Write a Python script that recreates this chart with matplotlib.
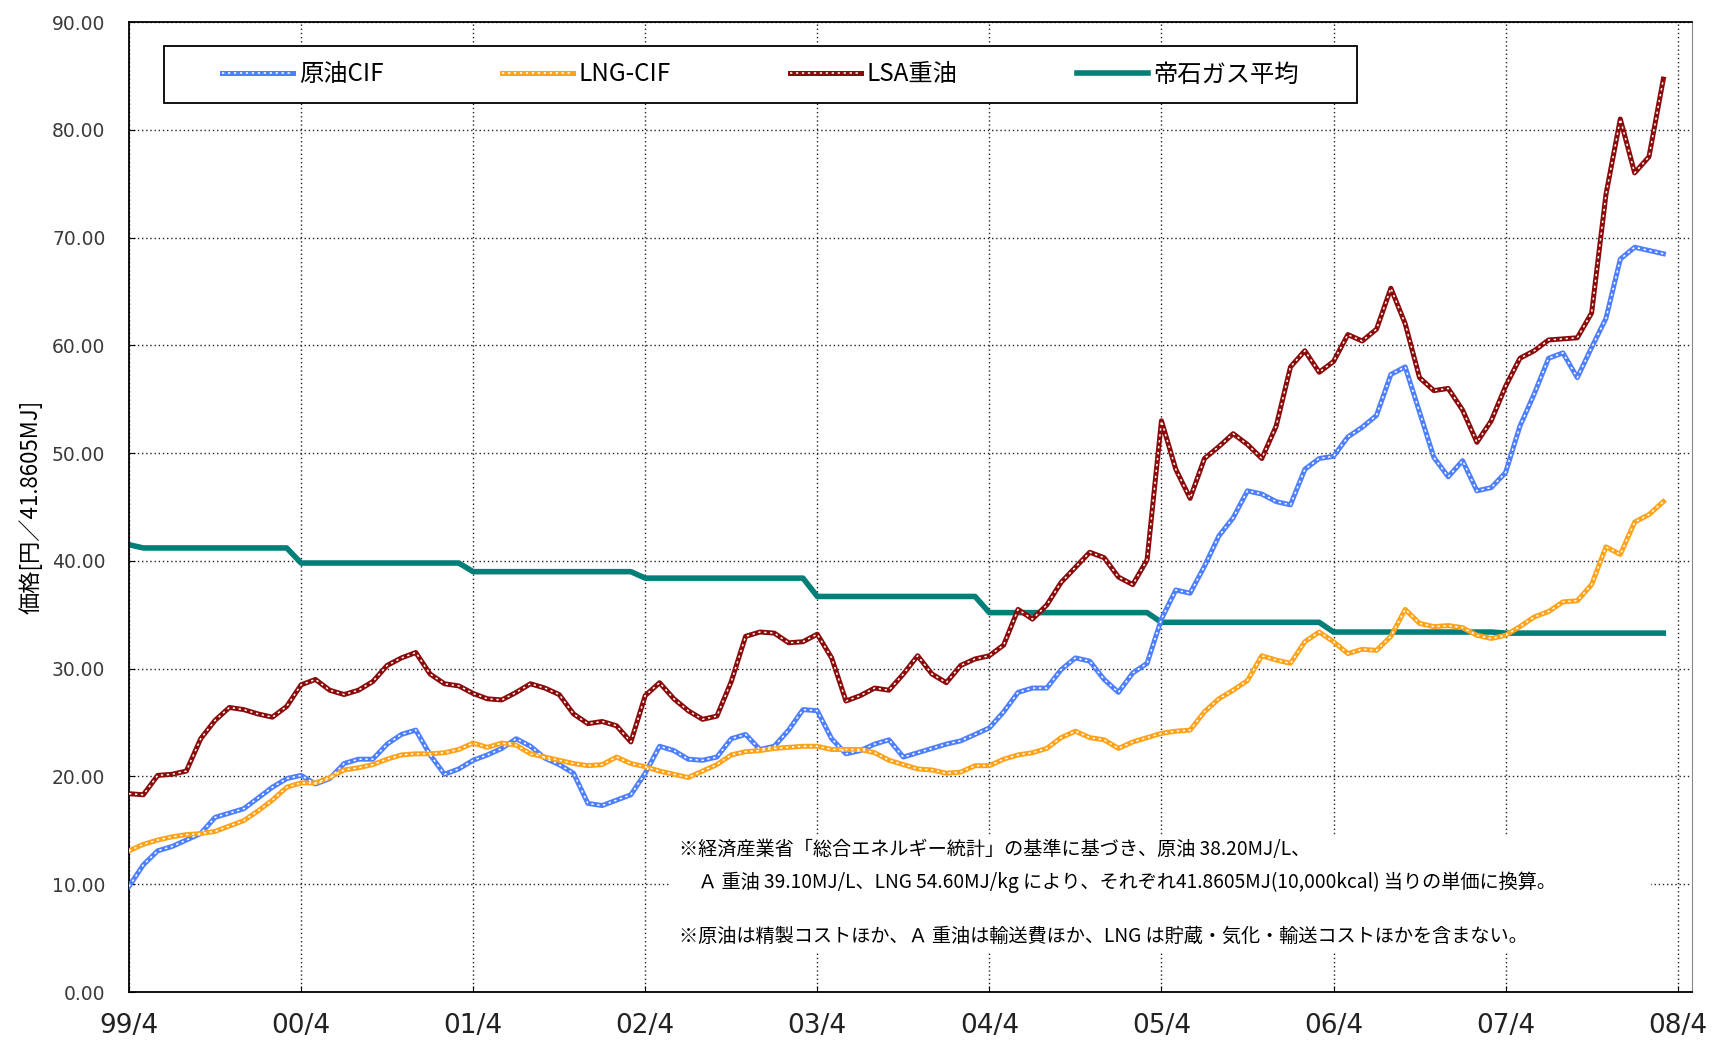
import matplotlib
matplotlib.use('Agg')
import matplotlib.pyplot as plt
import numpy as np
from matplotlib.patches import Rectangle
from matplotlib.legend_handler import HandlerTuple

# monthly, 1999/4 .. 2008/3  (yen per 41.8605MJ)
crude_cif = [
    9.8, 11.8, 13.1, 13.5, 14.1, 14.7, 16.2, 16.6, 17.0, 18.0, 19.0, 19.8,
    20.1, 19.3, 19.8, 21.2, 21.6, 21.6, 23.0, 23.9, 24.3, 22.0, 20.2, 20.7,
    21.5, 22.0, 22.6, 23.5, 22.8, 21.7, 21.1, 20.3, 17.5, 17.3, 17.8, 18.3,
    20.3, 22.8, 22.4, 21.6, 21.5, 21.8, 23.5, 23.9, 22.5, 22.8, 24.3, 26.2,
    26.1, 23.5, 22.1, 22.4, 23.0, 23.4, 21.8, 22.2, 22.6, 23.0, 23.3, 23.9,
    24.5, 26.0, 27.8, 28.2, 28.2, 29.9, 31.0, 30.7, 29.0, 27.8, 29.6, 30.5,
    34.6, 37.3, 37.0, 39.5, 42.3, 44.0, 46.5, 46.2, 45.5, 45.2, 48.5, 49.5,
    49.7, 51.5, 52.4, 53.5, 57.3, 58.0, 53.8, 49.6, 47.8, 49.3, 46.5, 46.8,
    48.2, 52.5, 55.5, 58.8, 59.3, 57.0, 59.8, 62.5, 68.0, 69.1, 68.8, 68.5,
]
lng_cif = [
    13.1, 13.7, 14.1, 14.4, 14.6, 14.7, 14.9, 15.4, 15.9, 16.8, 17.8, 19.0,
    19.4, 19.4, 19.9, 20.6, 20.8, 21.1, 21.6, 22.0, 22.1, 22.1, 22.2, 22.5,
    23.1, 22.7, 23.1, 22.9, 22.1, 21.8, 21.5, 21.2, 21.0, 21.1, 21.8, 21.2,
    20.9, 20.5, 20.2, 19.9, 20.5, 21.1, 22.0, 22.3, 22.4, 22.6, 22.7, 22.8,
    22.8, 22.5, 22.5, 22.5, 22.2, 21.5, 21.1, 20.7, 20.6, 20.3, 20.4, 21.0,
    21.0, 21.6, 22.0, 22.2, 22.6, 23.6, 24.2, 23.6, 23.4, 22.6, 23.2, 23.6,
    24.0, 24.2, 24.3, 26.0, 27.2, 28.0, 28.9, 31.2, 30.8, 30.5, 32.5, 33.4,
    32.5, 31.4, 31.8, 31.7, 33.0, 35.5, 34.2, 33.9, 34.0, 33.8, 33.1, 32.8,
    33.1, 33.9, 34.8, 35.3, 36.2, 36.3, 37.8, 41.3, 40.6, 43.6, 44.3, 45.5,
]
lsa_fuel = [
    18.4, 18.3, 20.1, 20.2, 20.5, 23.5, 25.2, 26.4, 26.2, 25.8, 25.5, 26.5,
    28.5, 29.0, 28.0, 27.6, 28.0, 28.8, 30.3, 31.0, 31.5, 29.5, 28.6, 28.4,
    27.7, 27.2, 27.1, 27.8, 28.6, 28.2, 27.6, 25.8, 24.9, 25.1, 24.7, 23.2,
    27.5, 28.7, 27.2, 26.1, 25.3, 25.6, 28.8, 33.0, 33.4, 33.3, 32.4, 32.5,
    33.2, 31.0, 27.0, 27.5, 28.2, 28.0, 29.5, 31.2, 29.5, 28.7, 30.3, 30.9,
    31.2, 32.2, 35.5, 34.6, 35.9, 38.0, 39.4, 40.8, 40.3, 38.5, 37.8, 40.1,
    53.0, 48.5, 45.8, 49.5, 50.6, 51.8, 50.8, 49.5, 52.5, 58.0, 59.5, 57.5,
    58.5, 61.0, 60.4, 61.5, 65.3, 62.0, 57.0, 55.8, 56.0, 54.0, 51.0, 53.0,
    56.2, 58.8, 59.5, 60.5, 60.6, 60.7, 63.0, 74.0, 81.0, 76.0, 77.5, 84.7,
]
teiseki_gas = [
    41.5, 41.2, 41.2, 41.2, 41.2, 41.2, 41.2, 41.2, 41.2, 41.2, 41.2, 41.2,
    39.8, 39.8, 39.8, 39.8, 39.8, 39.8, 39.8, 39.8, 39.8, 39.8, 39.8, 39.8,
    39.0, 39.0, 39.0, 39.0, 39.0, 39.0, 39.0, 39.0, 39.0, 39.0, 39.0, 39.0,
    38.4, 38.4, 38.4, 38.4, 38.4, 38.4, 38.4, 38.4, 38.4, 38.4, 38.4, 38.4,
    36.7, 36.7, 36.7, 36.7, 36.7, 36.7, 36.7, 36.7, 36.7, 36.7, 36.7, 36.7,
    35.2, 35.2, 35.2, 35.2, 35.2, 35.2, 35.2, 35.2, 35.2, 35.2, 35.2, 35.2,
    34.3, 34.3, 34.3, 34.3, 34.3, 34.3, 34.3, 34.3, 34.3, 34.3, 34.3, 34.3,
    33.4, 33.4, 33.4, 33.4, 33.4, 33.4, 33.4, 33.4, 33.4, 33.4, 33.4, 33.4,
    33.3, 33.3, 33.3, 33.3, 33.3, 33.3, 33.3, 33.3, 33.3, 33.3, 33.3, 33.3,
]
series_names = ['原油CIF', 'LNG-CIF', 'LSA重油', '帝石ガス平均']
year_labels = ['99/4', '00/4', '01/4', '02/4', '03/4', '04/4', '05/4', '06/4', '07/4', '08/4']
y_ticks = [0, 10, 20, 30, 40, 50, 60, 70, 80, 90]

notes = [
    '※経済産業省「総合エネルギー統計」の基準に基づき、原油 38.20MJ/L、',
    '　Ａ 重油 39.10MJ/L、LNG 54.60MJ/kg により、それぞれ41.8605MJ(10,000kcal) 当りの単価に換算。',
    '※原油は精製コストほか、Ａ 重油は輸送費ほか、LNG は貯蔵・気化・輸送コストほかを含まない。',
]

plt.rcParams['font.family'] = ['Noto Sans CJK JP', 'DejaVu Sans']

fig = plt.figure(figsize=(17.13, 10.41), dpi=100)
ax = fig.add_axes([129 / 1713, 1 - 992 / 1041, 1563 / 1713, 970 / 1041])

x = np.arange(len(crude_cif))


def chain(y, color):
    # thick coloured line with small white holes -> looks like a chain of tiny squares
    l1, = ax.plot(x, y, color=color, lw=3.6, zorder=3)
    l2, = ax.plot(x, y, color='white', lw=1.1, linestyle=(0, (1.5, 2.4)), zorder=4)
    return (l1, l2)


h_crude = chain(crude_cif, '#4d7fff')
h_lng = chain(lng_cif, '#ffa31a')
h_lsa = chain(lsa_fuel, '#8b0a0a')
h_gas, = ax.plot(x, teiseki_gas, color='#007f78', lw=4.0, zorder=2)

ax.set_xlim(0, 109)
ax.set_ylim(0, 90)
ax.set_xticks(np.arange(len(year_labels)) * 12)
ax.set_xticklabels(year_labels, family=['Liberation Sans Narrow', 'DejaVu Sans'], fontsize=19, color='#222222')
ax.set_yticks(y_ticks)
ax.set_yticklabels(['%.2f' % v for v in y_ticks], family=['DejaVu Sans'], fontsize=13.5, color='#3a3a3a')
ax.tick_params(axis='x', direction='in', length=4, pad=15)
ax.tick_params(axis='y', direction='in', length=4, pad=17)

ax.grid(True, color='#222222', linestyle=(0, (1, 2)), lw=1.0)
ax.set_axisbelow(True)
for s in ['left', 'bottom', 'top']:
    ax.spines[s].set_linewidth(1.3)
    ax.spines[s].set_color('black')
ax.spines['right'].set_color('#888888')

ax.set_ylabel('価格[円／41.8605MJ]', fontsize=16)
ax.yaxis.set_label_coords(-0.055, 0.5)

# legend box
ax.add_patch(Rectangle((0.0224, 0.9165), 0.7633, 0.0588, transform=ax.transAxes,
                       facecolor='white', edgecolor='black', lw=1.3, zorder=6))
leg = ax.legend([h_crude, h_lng, h_lsa, h_gas], series_names, loc='center',
                bbox_to_anchor=(0.0224 + 0.7633 / 2, 0.9165 + 0.0588 / 2), ncol=4,
                frameon=False, fontsize=17.5, handlelength=2.92, handletextpad=0.23,
                columnspacing=4.9, handler_map={tuple: HandlerTuple(ndivide=1)})
leg.set_zorder(7)

# notes with white background over the grid
ax.add_patch(Rectangle((0.347, 0.041), 0.627, 0.12, transform=ax.transAxes,
                       facecolor='white', edgecolor='none', zorder=1.5))
note_y = [0.147, 0.113, 0.057]
for t, yy in zip(notes, note_y):
    ax.text(0.352, yy, t, transform=ax.transAxes, fontsize=13.8, va='center', ha='left', zorder=5)

fig.savefig('out.png', dpi=100)
